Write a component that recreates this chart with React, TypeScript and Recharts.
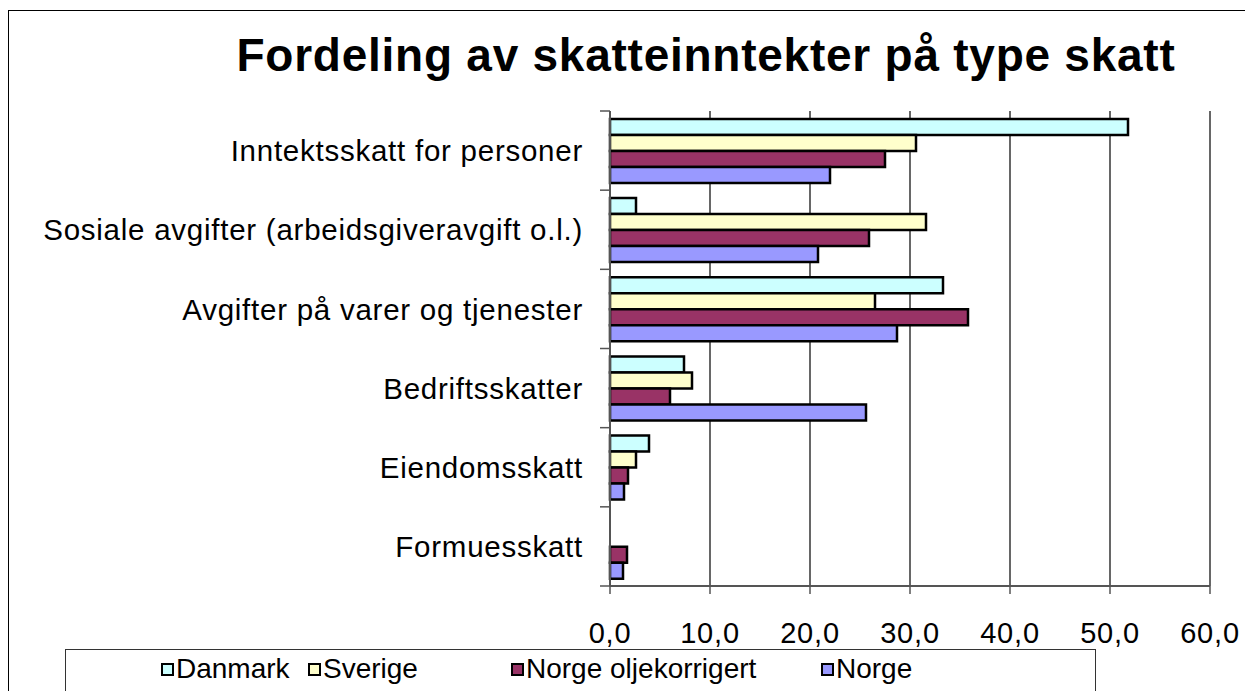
import { BarChart, Bar, XAxis, YAxis, CartesianGrid } from "recharts";

const categories = [
  "Inntektsskatt for personer",
  "Sosiale avgifter (arbeidsgiveravgift o.l.)",
  "Avgifter på varer og tjenester",
  "Bedriftsskatter",
  "Eiendomsskatt",
  "Formuesskatt",
];
const danmark = [51.8, 2.6, 33.3, 7.4, 3.9, 0];
const sverige = [30.6, 31.6, 26.5, 8.2, 2.6, 0];
const norgeOlje = [27.5, 25.9, 35.8, 6.0, 1.8, 1.7];
const norge = [22.0, 20.8, 28.7, 25.6, 1.4, 1.3];
const xTicks = [0, 10, 20, 30, 40, 50, 60];

const series = [
  { key: "danmark", name: "Danmark", color: "#CCFFFF", legendX: 161 },
  { key: "sverige", name: "Sverige", color: "#FFFFCC", legendX: 308 },
  { key: "norgeOlje", name: "Norge oljekorrigert", color: "#993366", legendX: 511 },
  { key: "norge", name: "Norge", color: "#9999FF", legendX: 821 },
];

const data = categories.map((name, i) => ({
  name,
  danmark: danmark[i],
  sverige: sverige[i],
  norgeOlje: norgeOlje[i],
  norge: norge[i],
}));

const FONT = "'Liberation Sans', Arial, sans-serif";
const W = 1245;
const H = 691;
const margin = { top: 111, right: 35, bottom: 45, left: 0 };
const xAxisHeight = 60;
const plotHeight = H - margin.top - margin.bottom - xAxisHeight;
const band = plotHeight / categories.length;

const CategoryTick = (props: any) => {
  const { x, y, payload, index } = props;
  const lineX1 = x + 17;
  const lineX2 = x + 27;
  return (
    <g>
      <line x1={lineX1} x2={lineX2} y1={y - band / 2} y2={y - band / 2} stroke="#555" strokeWidth={1.5} />
      {index === categories.length - 1 && (
        <line x1={lineX1} x2={lineX2} y1={y + band / 2} y2={y + band / 2} stroke="#555" strokeWidth={1.5} />
      )}
      <text
        x={x}
        y={y}
        dy="0.36em"
        textAnchor="end"
        fill="#000"
        fontSize={29.5}
        letterSpacing={0.75}
        fontFamily={FONT}
      >
        {payload.value}
      </text>
    </g>
  );
};

export default function App() {
  return (
    <div
      style={{
        position: "fixed",
        left: 0,
        top: 0,
        width: W,
        height: H,
        overflow: "hidden",
        background: "#fff",
        fontFamily: FONT,
      }}
    >
      <div
        style={{
          position: "absolute",
          left: 8,
          top: 10,
          width: 1400,
          height: 900,
          border: "1px solid #000",
        }}
      />
      <div
        style={{
          position: "absolute",
          left: 206,
          top: 32,
          width: 1000,
          textAlign: "center",
          fontSize: 46,
          lineHeight: "46px",
          letterSpacing: 0.75,
          fontWeight: "bold",
          color: "#000",
          whiteSpace: "nowrap",
        }}
      >
        Fordeling av skatteinntekter på type skatt
      </div>
      <div style={{ position: "absolute", left: 0, top: 0 }}>
        <BarChart
          width={W}
          height={H}
          data={data}
          layout="vertical"
          margin={margin}
          barGap={0}
          barCategoryGap="10%"
        >
          <CartesianGrid horizontal={false} stroke="#000" strokeWidth={1.2} />
          <XAxis
            type="number"
            domain={[0, 60]}
            ticks={xTicks}
            interval={0}
            height={xAxisHeight}
            axisLine={{ stroke: "#555", strokeWidth: 2 }}
            tickLine={{ stroke: "#555", strokeWidth: 1.5 }}
            tickSize={8}
            tickMargin={28}
            tick={{ fill: "#000", fontSize: 29, fontFamily: FONT, letterSpacing: 0.8 }}
            tickFormatter={(v: number) => v.toFixed(1).replace(".", ",")}
          />
          <YAxis
            type="category"
            dataKey="name"
            width={610}
            axisLine={{ stroke: "#555", strokeWidth: 2 }}
            tickLine={false}
            tickSize={10}
            tickMargin={17}
            interval={0}
            tick={<CategoryTick />}
          />
          {series.map((s) => (
            <Bar
              key={s.key}
              dataKey={s.key}
              name={s.name}
              fill={s.color}
              stroke="#000"
              strokeWidth={2.5}
              isAnimationActive={false}
            />
          ))}
        </BarChart>
      </div>
      <div
        style={{
          position: "absolute",
          left: 65,
          top: 649,
          width: 1029,
          height: 100,
          border: "1px solid #333",
        }}
      />
      {series.map((s) => (
        <div
          key={s.key}
          style={{
            position: "absolute",
            left: s.legendX,
            top: 652,
            height: 34,
            display: "flex",
            alignItems: "center",
            fontSize: 28,
            color: "#000",
            whiteSpace: "nowrap",
          }}
        >
          <span
            style={{
              display: "inline-block",
              width: 9,
              height: 9,
              background: s.color,
              border: "2px solid #000",
              marginRight: 2,
            }}
          />
          {s.name}
        </div>
      ))}
    </div>
  );
}
